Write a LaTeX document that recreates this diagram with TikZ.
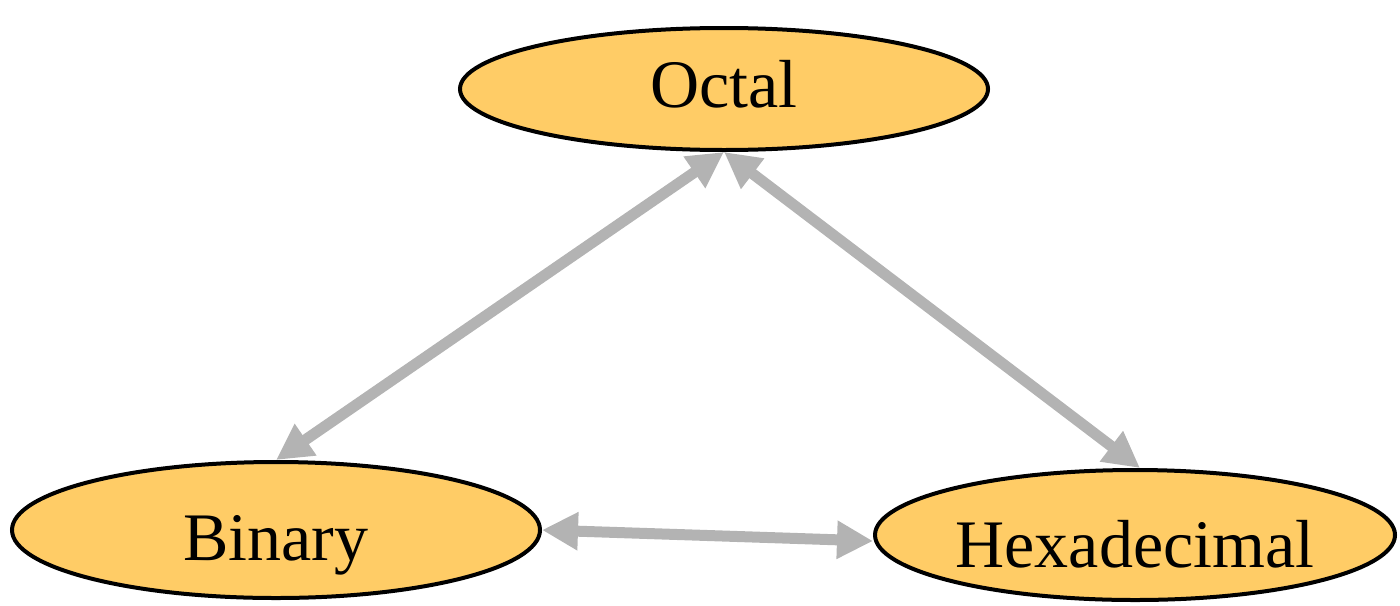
\documentclass[tikz,border=0pt]{standalone}
\usepackage{fontspec}
\setmainfont{Liberation Serif}
\usetikzlibrary{shapes.geometric,arrows.meta}
\definecolor{numfill}{HTML}{FFCC66}
\definecolor{convgray}{HTML}{B3B3B3}
\begin{document}
\begin{tikzpicture}[x=0.5pt,y=-0.5pt,
  base/.style={ellipse,draw=black,line width=2pt,fill=numfill,inner sep=0pt,
    text depth=4pt,font=\fontsize{34}{40}\selectfont},
  conv/.style={draw=convgray,line width=5.5pt,
    {Triangle[length=18pt,width=18pt]}-{Triangle[length=18pt,width=18pt]}}]
\useasboundingbox (0,0) rectangle (1400,605);
\node[base,minimum width=264pt,minimum height=61pt,text height=22pt] (oct) at (724,89) {Octal};
\node[base,minimum width=264pt,minimum height=68pt,text height=34pt] (bin) at (276,530) {Binary};
\node[base,minimum width=260pt,minimum height=65pt,text height=36pt] (hex) at (1135,535) {Hexadecimal};
%
\draw[conv] (bin.north) -- (oct.south);
\draw[conv] (oct.south) -- ([xshift=2.5pt]hex.north);
\draw[conv] (bin.east) -- ([yshift=-3pt]hex.west);
\end{tikzpicture}
\end{document}
